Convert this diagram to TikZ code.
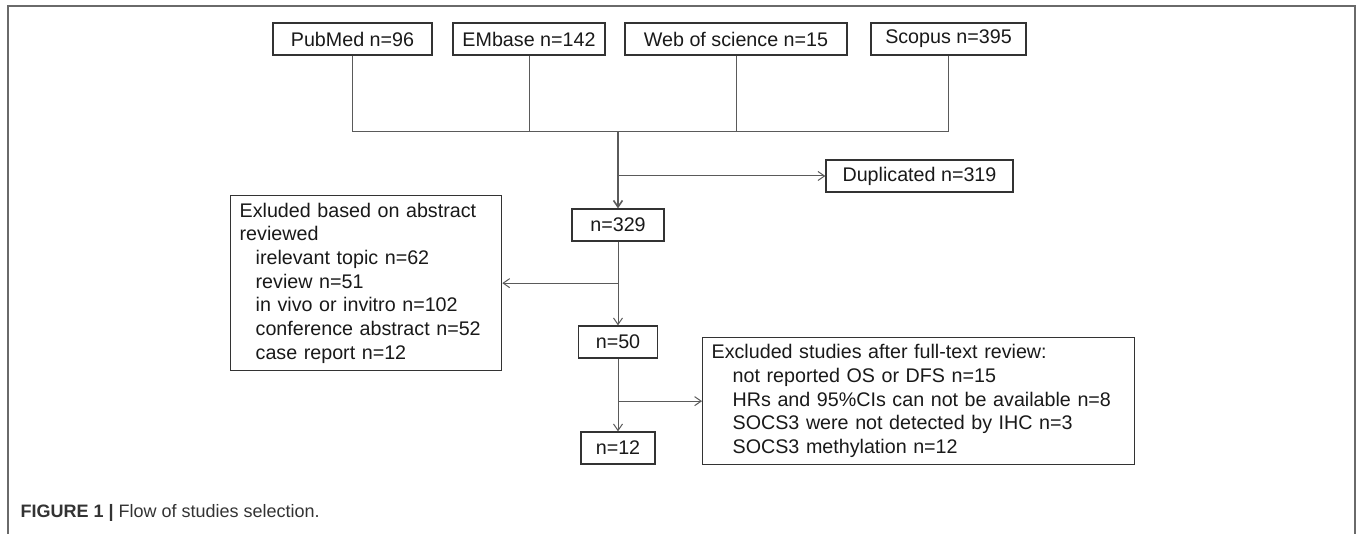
\documentclass[tikz,border=0pt]{standalone}
\usepackage{fontspec}
\setmainfont{Liberation Sans}
\usepackage{xcolor}
\usetikzlibrary{arrows.meta}

\definecolor{boxgray}{HTML}{333333}
\definecolor{linegray}{HTML}{5A5A5A}
\definecolor{framegray}{HTML}{6A6A6A}
\definecolor{captiongray}{HTML}{333333}
\newcommand{\diagfont}{\fontsize{19.7}{23.7}\selectfont}
\newcommand{\capfont}{\fontsize{18}{21}\selectfont}
\newcommand{\ind}{\hspace*{16pt}}
\newcommand{\indd}{\hspace*{21pt}}

\begin{document}
\begin{tikzpicture}[x=1pt, y=-1pt,
        box/.style={rectangle, draw=boxgray, line width=1.3pt, inner sep=0pt, minimum height=32pt, font=\diagfont, text=black!90},
        listbox/.style={box, anchor=north west, align=left, inner xsep=9pt},
        link/.style={linegray, line width=1pt},
        arrow/.style={-{Straight Barb[length=6.5pt,width=9pt]}, linegray, line width=1pt}
    ]
        \useasboundingbox (0,0) rectangle (1357,534);
        % Frame
        \draw[framegray, line width=2pt] (8,534) -- (8,6) -- (1355,6) -- (1355,534);

        % Boxes
        \node[box, minimum width=159pt] (pubmed) at (352.5,39) {PubMed n=96};
        \node[box, minimum width=152pt] (embase) at (529,39) {EMbase n=142};
        \node[box, minimum width=222pt] (wos) at (736,39) {Web of science n=15};
        \node[box, minimum width=155pt] (scopus) at (948.5,39) {Scopus n=395};

        \node[box, minimum width=187pt] (dup) at (919.5,176) {Duplicated n=319};
        \node[box, minimum width=92pt] (n329) at (618,225) {n=329};
        \node[box, minimum width=79pt] (n50) at (618,342) {n=50};
        \node[box, minimum width=74pt] (n12) at (618,448) {n=12};

        \node[listbox, text width=253pt, minimum height=175pt] (abstract) at (230,195) {Exluded based on abstract\\reviewed\\\ind irelevant topic n=62\\\ind review n=51\\\ind in vivo or invitro n=102\\\ind conference abstract n=52\\\ind case report n=12};

        \node[listbox, text width=414pt, minimum height=127pt] (fulltext) at (702,337) {Excluded studies after full-text review:\\\indd not reported OS or DFS n=15\\\indd HRs and 95\%CIs can not be available n=8\\\indd SOCS3 were not detected by IHC n=3\\\indd SOCS3 methylation n=12};

        \node[anchor=base west, font=\capfont, text=captiongray] (caption) at (17,517) {\textbf{FIGURE 1 |} Flow of studies selection.};

        % Lines
        \coordinate (merge) at (618,132);
        \draw[link] (pubmed.south) |- (merge);
        \draw[link] (scopus.south) |- (merge);
        \draw[link] (embase.south) -- (embase.south |- merge);
        \draw[link] (wos.south) -- (wos.south |- merge);

        % Arrows
        \draw[arrow, line width=1.6pt] (merge) -- (n329.north);
        \draw[arrow] (n329.north |- dup.west) -- (dup.west);
        \draw[arrow] (n329.south) -- (n50.north);
        \draw[arrow] (n329.south |- abstract.east) -- (abstract.east);
        \draw[arrow] (n50.south) -- (n12.north);
        \draw[arrow] (n50.south |- fulltext.west) -- (fulltext.west);
    \end{tikzpicture}
\end{document}
